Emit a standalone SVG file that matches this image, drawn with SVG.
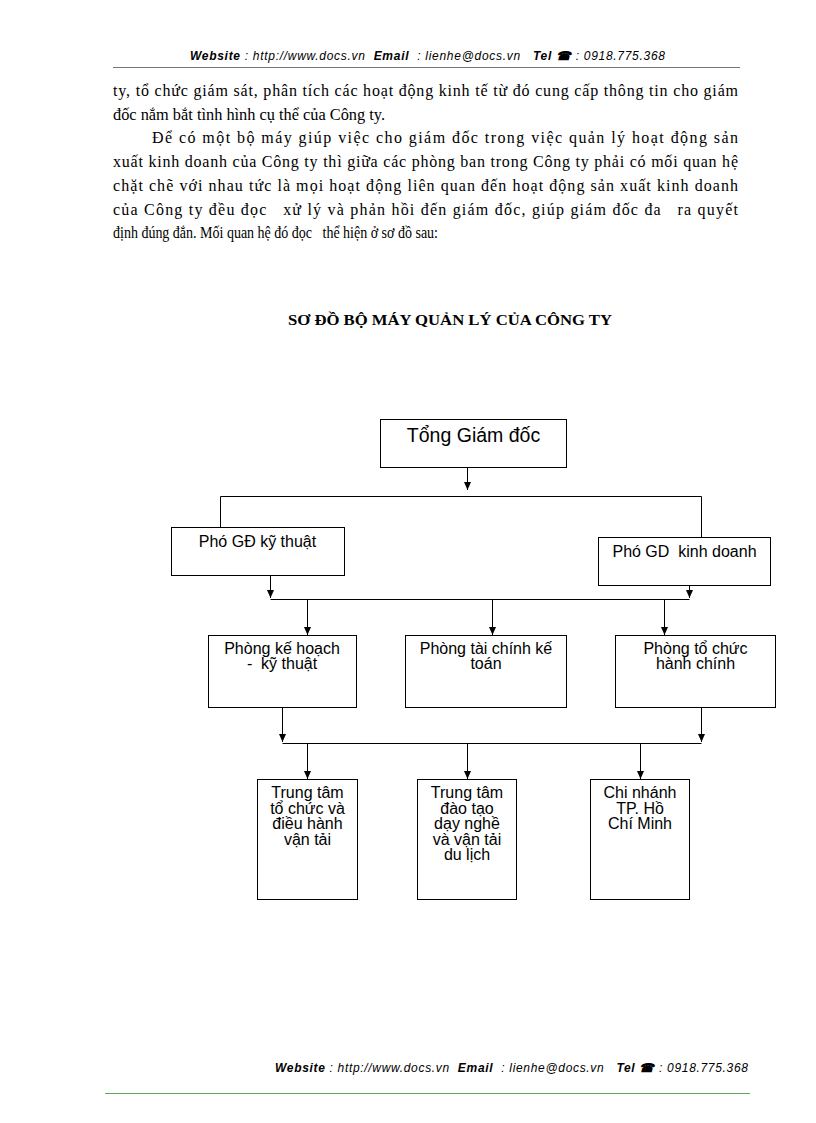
<svg xmlns="http://www.w3.org/2000/svg" width="816" height="1123" viewBox="0 0 816 1123">
<style>
.body{font-family:"Liberation Serif","Times New Roman",serif;font-size:16px;fill:#000;white-space:pre}
.hdr{font-family:"Liberation Sans",Arial,sans-serif;font-style:italic;font-size:12px;fill:#000;white-space:pre}
.hdr .b{font-weight:bold}
.title{font-family:"Liberation Serif","Times New Roman",serif;font-weight:bold;font-size:14.5px;fill:#000}
.box{fill:#fff;stroke:#000;stroke-width:1}
.lbl{font-family:"Liberation Sans",Arial,sans-serif;font-size:16px;fill:#000;text-anchor:middle;white-space:pre}
.big{font-size:19.5px}
.con{fill:none;stroke:#000;stroke-width:1}
.arr{marker-end:url(#ah)}
</style>
<defs>
<marker id="ah" markerUnits="userSpaceOnUse" markerWidth="8" markerHeight="8" refX="8" refY="3.5" orient="auto">
<path d="M0,0 L8,3.5 L0,7 z" fill="#000"/>
</marker>
</defs>
<rect width="816" height="1123" fill="#fff"/>
<g id="header">
<text class="hdr" x="190" y="60" textLength="475" xml:space="preserve"><tspan class="b">Website</tspan> : http://www.docs.vn  <tspan class="b">Email</tspan>  : lienhe@docs.vn   <tspan class="b">Tel ☎</tspan> : 0918.775.368</text>
<line x1="113" y1="67.5" x2="740" y2="67.5" stroke="#777" stroke-width="1"/>
</g>
<g id="paragraph">
<text class="body" x="113" y="96" textLength="625" lengthAdjust="spacing">ty, tổ chức giám sát, phân tích các hoạt động kinh tế từ đó cung cấp thông tin cho giám</text>
<text class="body" x="113" y="120" textLength="272" lengthAdjust="spacingAndGlyphs">đốc nắm bắt tình hình cụ thể của Công ty.</text>
<text class="body" x="152" y="143" textLength="586" lengthAdjust="spacing">Để có một bộ máy giúp việc cho giám đốc trong việc quản lý hoạt động sản</text>
<text class="body" x="113" y="167" textLength="625" lengthAdjust="spacing">xuất kinh doanh của Công ty thì giữa các phòng ban trong Công ty phải có mối quan hệ</text>
<text class="body" x="113" y="191" textLength="625" lengthAdjust="spacing">chặt chẽ với nhau tức là mọi hoạt động liên quan đến hoạt động sản xuất kinh doanh</text>
<text class="body" x="113" y="215" textLength="625" lengthAdjust="spacing" xml:space="preserve">của Công ty đều đọc   xử lý và phản hồi đến giám đốc, giúp giám đốc đa   ra quyết</text>
<text class="body" x="113" y="238" textLength="325" lengthAdjust="spacingAndGlyphs" xml:space="preserve">định đúng đắn. Mối quan hệ đó đọc   thể hiện ở sơ đồ sau:</text>
</g>
<text id="title" class="title" x="288" y="325" textLength="324" lengthAdjust="spacingAndGlyphs">SƠ ĐỒ BỘ MÁY QUẢN LÝ CỦA CÔNG TY</text>
<g id="connectors">
<line class="con arr" x1="467.5" y1="467" x2="467.5" y2="490"/>
<polyline class="con" points="220.5,527 220.5,496.5 701.5,496.5 701.5,537"/>
<line class="con arr" x1="270.5" y1="575" x2="270.5" y2="598"/>
<line class="con arr" x1="689.5" y1="575" x2="689.5" y2="598"/>
<line class="con" x1="270.5" y1="599.5" x2="689.5" y2="599.5"/>
<line class="con arr" x1="307.5" y1="599" x2="307.5" y2="635"/>
<line class="con arr" x1="492.5" y1="599" x2="492.5" y2="635"/>
<line class="con arr" x1="664.5" y1="599" x2="664.5" y2="635"/>
<line class="con arr" x1="282.5" y1="707" x2="282.5" y2="742"/>
<line class="con arr" x1="701.5" y1="707" x2="701.5" y2="742"/>
<line class="con" x1="282.5" y1="743.5" x2="701.5" y2="743.5"/>
<line class="con arr" x1="307.5" y1="743" x2="307.5" y2="779"/>
<line class="con arr" x1="467.5" y1="743" x2="467.5" y2="779"/>
<line class="con arr" x1="640.5" y1="743" x2="640.5" y2="779"/>
</g>
<g id="tong-giam-doc">
<rect class="box" x="380.5" y="419.5" width="186" height="48"/>
<text class="lbl big" x="473.5" y="442">Tổng Giám đốc</text>
</g>
<g id="pho-gd-ky-thuat">
<rect class="box" x="171.5" y="527.5" width="173" height="48"/>
<text class="lbl" x="257.5" y="547">Phó GĐ kỹ thuật</text>
</g>
<g id="pho-gd-kinh-doanh">
<rect class="box" x="598.5" y="537.5" width="172" height="48"/>
<text class="lbl" x="684.5" y="557" xml:space="preserve">Phó GD  kinh doanh</text>
</g>
<g id="phong-ke-hoach">
<rect class="box" x="208.5" y="635.5" width="148" height="72"/>
<text class="lbl" x="282" y="654">Phòng kế hoạch</text>
<text class="lbl" x="282" y="669" xml:space="preserve">-  kỹ thuật</text>
</g>
<g id="phong-tai-chinh">
<rect class="box" x="405.5" y="635.5" width="161" height="72"/>
<text class="lbl" x="486" y="654">Phòng tài chính kế</text>
<text class="lbl" x="486" y="669">toán</text>
</g>
<g id="phong-to-chuc">
<rect class="box" x="615.5" y="635.5" width="160" height="72"/>
<text class="lbl" x="695.5" y="654">Phòng tổ chức</text>
<text class="lbl" x="695.5" y="669">hành chính</text>
</g>
<g id="trung-tam-van-tai">
<rect class="box" x="257.5" y="779.5" width="100" height="120"/>
<text class="lbl" x="307.5" y="798">Trung tâm</text>
<text class="lbl" x="307.5" y="813.5">tổ chức và</text>
<text class="lbl" x="307.5" y="829">điều hành</text>
<text class="lbl" x="307.5" y="844.5">vận tải</text>
</g>
<g id="trung-tam-dao-tao">
<rect class="box" x="417.5" y="779.5" width="99" height="120"/>
<text class="lbl" x="467" y="798">Trung tâm</text>
<text class="lbl" x="467" y="813.5">đào tạo</text>
<text class="lbl" x="467" y="829">dạy nghề</text>
<text class="lbl" x="467" y="844.5">và vận tải</text>
<text class="lbl" x="467" y="860">du lịch</text>
</g>
<g id="chi-nhanh">
<rect class="box" x="590.5" y="779.5" width="99" height="120"/>
<text class="lbl" x="640" y="798">Chi nhánh</text>
<text class="lbl" x="640" y="813.5">TP. Hồ</text>
<text class="lbl" x="640" y="829">Chí Minh</text>
</g>
<g id="footer">
<text class="hdr" x="275" y="1072" textLength="473" xml:space="preserve"><tspan class="b">Website</tspan> : http://www.docs.vn  <tspan class="b">Email</tspan>  : lienhe@docs.vn   <tspan class="b">Tel ☎</tspan> : 0918.775.368</text>
<line x1="105" y1="1093.5" x2="750" y2="1093.5" stroke="#5fa85f" stroke-width="1"/>
</g>
</svg>
